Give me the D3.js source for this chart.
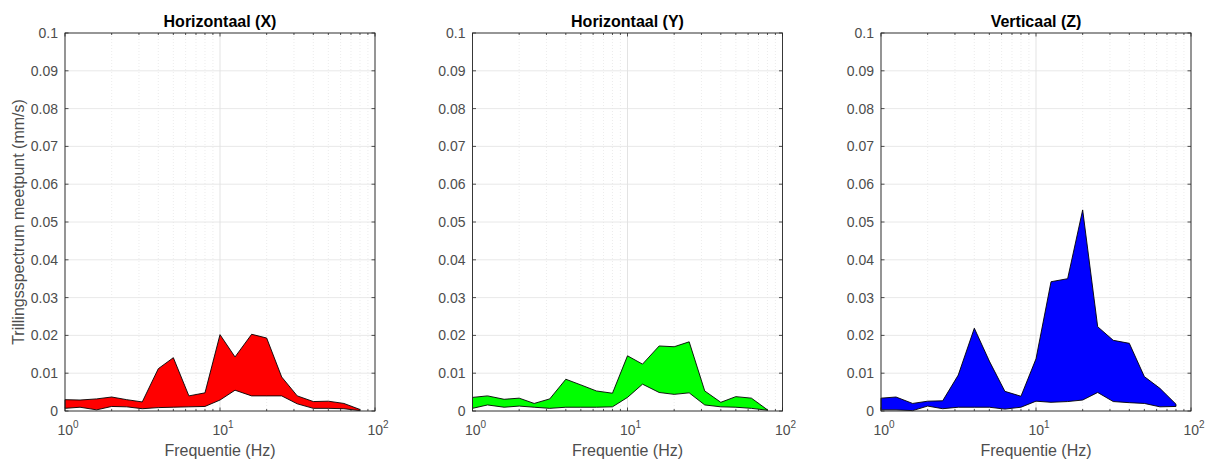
<!DOCTYPE html>
<html>
<head>
<meta charset="utf-8">
<script src="https://cdn.jsdelivr.net/npm/d3@7"></script>
<style>
  html, body { margin: 0; padding: 0; background: #fff; }
  svg { display: block; font-family: "Liberation Sans", Arial, Helvetica, sans-serif; }
</style>
</head>
<body>
<svg id="chart" width="1211" height="465"></svg>
<script>
// One-third octave band centre frequencies (Hz)
const frequencies = [1, 1.25, 1.6, 2, 2.5, 3.15, 4, 5, 6.3, 8, 10, 12.5, 16, 20, 25, 31.5, 40, 50, 63, 80];

// Spectrum envelopes per direction (mm/s): lower and upper bound per band
const xLower = [0.0007, 0.001, 0.0003, 0.0012, 0.0011, 0.0006, 0.0009, 0.001, 0.0011, 0.0012, 0.0029, 0.0055, 0.004, 0.004, 0.004, 0.0019, 0.0007, 0.0007, 0.0006, 0.0001];
const xUpper = [0.003, 0.0029, 0.0032, 0.0037, 0.003, 0.0024, 0.0112, 0.0141, 0.004, 0.0048, 0.0202, 0.0143, 0.0203, 0.0193, 0.009, 0.004, 0.0025, 0.0026, 0.002, 0.0004];

const yLower = [0.0007, 0.0016, 0.001, 0.0013, 0.001, 0.0007, 0.001, 0.001, 0.001, 0.0011, 0.0036, 0.0071, 0.0049, 0.0044, 0.0048, 0.0016, 0.0011, 0.001, 0.0007, 0.0002];
const yUpper = [0.0036, 0.004, 0.0031, 0.0034, 0.002, 0.0032, 0.0084, 0.0069, 0.0053, 0.0047, 0.0146, 0.0124, 0.0172, 0.017, 0.0183, 0.0053, 0.0023, 0.0038, 0.0034, 0.0003];

const zLower = [0.0003, 0.0003, 0.0001, 0.0013, 0.0006, 0.001, 0.001, 0.001, 0.0005, 0.001, 0.0026, 0.0023, 0.0025, 0.0029, 0.0049, 0.0025, 0.0022, 0.002, 0.0011, 0.0012];
const zUpper = [0.0034, 0.0037, 0.002, 0.0026, 0.0027, 0.0095, 0.0219, 0.0132, 0.0052, 0.0039, 0.0138, 0.0342, 0.035, 0.0532, 0.0223, 0.0187, 0.0179, 0.0091, 0.006, 0.0018];

const titles = ["Horizontaal (X)", "Horizontaal (Y)", "Verticaal (Z)"];
const fillColors = ["#ff0000", "#00ff00", "#0000ff"];
const yTicks = [0, 0.01, 0.02, 0.03, 0.04, 0.05, 0.06, 0.07, 0.08, 0.09, 0.1];
const xMajorTicks = [1, 10, 100];
const xExponents = ["0", "1", "2"];
const xLabel = "Frequentie (Hz)";
const yLabel = "Trillingsspectrum meetpunt (mm/s)";

const series = [
  { lower: xLower, upper: xUpper },
  { lower: yLower, upper: yUpper },
  { lower: zLower, upper: zUpper }
];

const svg = d3.select("#chart");
const panelLefts = [65, 472.5, 881];
const panelW = 310, panelTop = 33, panelH = 378;

const minorTicks = [];
for (let d = 1; d <= 10; d *= 10) for (let k = 2; k <= 9; k++) minorTicks.push(k * d);

const axisColor = "#262626";
const labelColor = "#4d4d4d";

panelLefts.forEach((left, i) => {
  const g = svg.append("g").attr("transform", `translate(${left},${panelTop})`);
  const x = d3.scaleLog().domain([1, 100]).range([0, panelW]);
  const y = d3.scaleLinear().domain([0, 0.1]).range([panelH, 0]);

  // minor vertical grid (dotted)
  g.append("g").selectAll("line").data(minorTicks).join("line")
    .attr("x1", d => x(d)).attr("x2", d => x(d))
    .attr("y1", 0).attr("y2", panelH)
    .attr("stroke", "#e4e4e4").attr("stroke-width", 0.7)
    .attr("stroke-dasharray", "1,2");

  // major grid
  g.append("g").selectAll("line").data(xMajorTicks).join("line")
    .attr("x1", d => x(d)).attr("x2", d => x(d))
    .attr("y1", 0).attr("y2", panelH)
    .attr("stroke", "#dcdcdc").attr("stroke-width", 0.8);
  g.append("g").selectAll("line").data(yTicks).join("line")
    .attr("x1", 0).attr("x2", panelW)
    .attr("y1", d => y(d)).attr("y2", d => y(d))
    .attr("stroke", "#e2e2e2").attr("stroke-width", 0.8);

  // filled envelope between lower and upper bound
  const s = series[i];
  const pts = frequencies.map((f, j) => ({ f, lo: s.lower[j], hi: s.upper[j] }));
  const area = d3.area().x(d => x(d.f)).y0(d => y(d.lo)).y1(d => y(d.hi));
  g.append("path").datum(pts)
    .attr("d", area)
    .attr("fill", fillColors[i])
    .attr("stroke", "#000")
    .attr("stroke-width", 0.9)
    .attr("stroke-linejoin", "round");

  // box
  g.append("rect").attr("x", 0).attr("y", 0).attr("width", panelW).attr("height", panelH)
    .attr("fill", "none").attr("stroke", axisColor).attr("stroke-width", 0.9);

  // inward ticks: y on left and right
  const tl = 3.5;
  g.append("g").selectAll("line").data(yTicks).join("line")
    .attr("x1", 0).attr("x2", tl).attr("y1", d => y(d)).attr("y2", d => y(d))
    .attr("stroke", axisColor).attr("stroke-width", 0.8);
  g.append("g").selectAll("line").data(yTicks).join("line")
    .attr("x1", panelW - tl).attr("x2", panelW).attr("y1", d => y(d)).attr("y2", d => y(d))
    .attr("stroke", axisColor).attr("stroke-width", 0.8);
  // x major and minor ticks on bottom and top
  const xt = xMajorTicks.map(v => ({ v, len: tl })).concat(minorTicks.map(v => ({ v, len: 2 })));
  g.append("g").selectAll("line").data(xt).join("line")
    .attr("x1", d => x(d.v)).attr("x2", d => x(d.v)).attr("y1", panelH).attr("y2", d => panelH - d.len)
    .attr("stroke", axisColor).attr("stroke-width", 0.8);
  g.append("g").selectAll("line").data(xt).join("line")
    .attr("x1", d => x(d.v)).attr("x2", d => x(d.v)).attr("y1", 0).attr("y2", d => d.len)
    .attr("stroke", axisColor).attr("stroke-width", 0.8);

  // y tick labels
  g.append("g").selectAll("text").data(yTicks).join("text")
    .attr("x", -7).attr("y", d => y(d)).attr("dy", "0.36em")
    .attr("text-anchor", "end").attr("font-size", 14).attr("fill", labelColor)
    .text(d => d3.format("~g")(d));

  // x tick labels 10^n
  const xl = g.append("g").selectAll("text").data(xMajorTicks).join("text")
    .attr("x", d => x(d) + 3).attr("y", panelH + 24)
    .attr("text-anchor", "middle").attr("font-size", 14).attr("fill", labelColor);
  xl.append("tspan").text("10");
  xl.append("tspan").attr("dy", -7).attr("font-size", 10).text((d, k) => xExponents[k]);

  // title
  g.append("text").attr("x", panelW / 2).attr("y", -6.5)
    .attr("text-anchor", "middle").attr("font-size", 16).attr("font-weight", "bold")
    .attr("fill", "#000").text(titles[i]);

  // x label
  g.append("text").attr("x", panelW / 2).attr("y", panelH + 45)
    .attr("text-anchor", "middle").attr("font-size", 16).attr("fill", labelColor)
    .text(xLabel);

  if (i === 0) {
    g.append("text")
      .attr("transform", `translate(${-41},${panelH / 2}) rotate(-90)`)
      .attr("text-anchor", "middle").attr("font-size", 16).attr("fill", labelColor)
      .text(yLabel);
  }
});
</script>
</body>
</html>
